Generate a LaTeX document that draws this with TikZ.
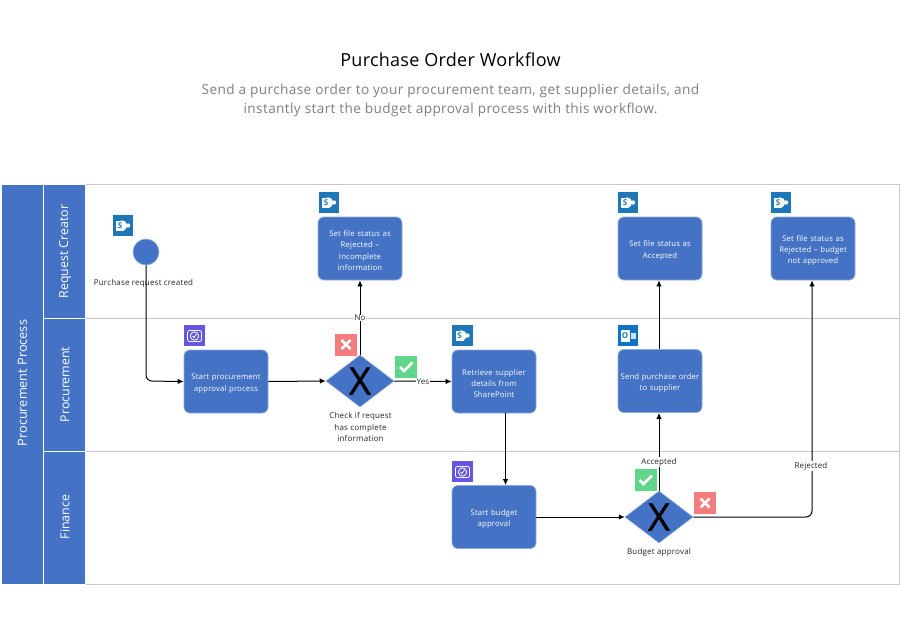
\documentclass[tikz,border=0pt]{standalone}
\usepackage{fontspec}
\setmainfont{Open Sans}
\usetikzlibrary{shapes.geometric,arrows.meta}
\definecolor{bpblue}{HTML}{4472C4}
\definecolor{bpedge}{HTML}{8FAADC}
\definecolor{lanegrey}{HTML}{C8C8C8}
\definecolor{spblue}{HTML}{1F77B8}
\definecolor{olblue}{HTML}{0F72C4}
\definecolor{flowpurple}{HTML}{6257DE}
\definecolor{okgreen}{HTML}{5FD68A}
\definecolor{nored}{HTML}{F47C7C}
\definecolor{titlegrey}{HTML}{7F7F7F}
\definecolor{labelgrey}{HTML}{262626}
\newcommand{\trk}[1]{\addfontfeature{LetterSpace=#1}}
\tikzset{
  x=1pt,y=-1pt,
  bandbox/.style={fill=bpblue,draw=white,line width=0.6pt},
  lanetxt/.style={text=white,rotate=90,font=\fontsize{12.4}{15}\selectfont},
  taskbox/.style={rectangle,rounded corners=6pt,fill=bpblue,draw=bpedge,line width=0.8pt,minimum width=84pt,minimum height=63pt,inner sep=1pt,text=white,align=center,text width=82pt,font=\fontsize{7.75}{11.4}\selectfont\trk{2},execute at begin node={\rule{0pt}{10pt}}},
  gatenode/.style={diamond,fill=bpblue,draw=bpedge,line width=0.5pt,minimum width=68pt,minimum height=52pt,inner sep=0pt,aspect=1.3,font=\fontsize{38}{38}\selectfont\addfontfeature{FakeBold=1},text=black},
  startnode/.style={circle,fill=bpblue,draw=bpedge,line width=0.6pt,minimum size=26pt,inner sep=0pt},
  captxt/.style={font=\fontsize{8}{11.4}\selectfont\trk{2.5},text=labelgrey,align=center,inner sep=0pt},
  edgelabel/.style={font=\fontsize{8}{9}\selectfont\trk{1.5},text=labelgrey,fill=white,inner sep=0.6pt},
  flow/.style={draw=black,line width=1pt,-{Latex[length=6pt,width=5.5pt]},rounded corners=6pt},
  spicon/.style={rectangle,fill=spblue,minimum size=20.5pt,inner sep=0pt,text=white,font=\bfseries\fontsize{8}{8}\selectfont},
  olicon/.style={rectangle,fill=olblue,minimum size=20.5pt,inner sep=0pt,text=white,font=\bfseries\fontsize{8}{8}\selectfont},
  paicon/.style={rectangle,fill=flowpurple,minimum size=20.5pt,inner sep=0pt},
  okicon/.style={rectangle,fill=okgreen,minimum size=22pt,inner sep=0pt},
  noicon/.style={rectangle,fill=nored,minimum size=22pt,inner sep=0pt},
  glyph/.style={draw=white,line width=2.6pt},
  thinglyph/.style={draw=white,line width=0.8pt}
}
\newcommand{\spmark}[1]{%
  \fill[white] ([xshift=-1pt]#1.center) circle (5.2pt);
  \fill[white] ([xshift=-7pt,yshift=-5pt]#1.center) rectangle ([xshift=1pt,yshift=5pt]#1.center);
  \fill[white] ([xshift=5pt]#1.center) circle (2.2pt);
  \node[text=spblue,font=\bfseries\fontsize{8}{8}\selectfont,inner sep=0pt] at ([xshift=-3pt]#1.center) {S};}
\newcommand{\pamark}[1]{%
  \draw[thinglyph,rounded corners=2pt] ([xshift=-7pt,yshift=-6pt]#1.center) rectangle ([xshift=7pt,yshift=5pt]#1.center);
  \draw[thinglyph] ([yshift=-0.5pt]#1.center) circle (4.2pt);
  \draw[thinglyph] ([xshift=-2pt,yshift=-0.5pt]#1.center) -- ([xshift=-0.5pt,yshift=-2pt]#1.center) -- ([xshift=2pt,yshift=1.5pt]#1.center);}
\newcommand{\okmark}[1]{%
  \draw[glyph] ([xshift=-6pt]#1.center) -- ([xshift=-2pt,yshift=-4pt]#1.center) -- ([xshift=6.5pt,yshift=4.5pt]#1.center);}
\newcommand{\nomark}[1]{%
  \draw[glyph] ([xshift=-4.5pt,yshift=-4.5pt]#1.center) -- ([xshift=4.5pt,yshift=4.5pt]#1.center);
  \draw[glyph] ([xshift=-4.5pt,yshift=4.5pt]#1.center) -- ([xshift=4.5pt,yshift=-4.5pt]#1.center);}
\begin{document}
\begin{tikzpicture}
\useasboundingbox (0,0) rectangle (900,626);
\fill[white] (0,0) rectangle (900,626);
% title
\node[font=\fontsize{18}{20}\selectfont\trk{1.5},text=black,inner sep=0pt] (title) at (450.5,60) {Purchase Order Workflow};
\node[font=\fontsize{13.65}{19}\selectfont\trk{2.7},text=titlegrey,align=center,inner sep=0pt] (subtitle) at (450.5,100.5) {Send a purchase order to your procurement team, get supplier details, and\\instantly start the budget approval process with this workflow.};
% pool
\draw[lanegrey,line width=0.9pt] (1,184) rectangle (899,584);
\draw[lanegrey,line width=0.8pt] (85,318) -- (899,318);
\draw[lanegrey,line width=0.8pt] (85,451) -- (899,451);
\path[bandbox] (1,184) rectangle (43,584);
\path[bandbox] (43,184) rectangle (85,318);
\path[bandbox] (43,318) rectangle (85,451);
\path[bandbox] (43,451) rectangle (85,584);
\node[lanetxt,font=\fontsize{12.7}{15}\selectfont] (pool) at (22.5,383) {Procurement Process};
\node[lanetxt] (lane1) at (65,251.5) {Request Creator};
\node[lanetxt] (lane2) at (65,384.5) {Procurement};
\node[lanetxt] (lane3) at (65,517) {Finance};
% flow nodes
\node[startnode] (start) at (146,252) {};
\node[captxt] (startcap) at (143.5,283) {Purchase request created};
\node[taskbox] (rej1) at (360,248.5) {Set file status as\\Rejected --\\Incomplete\\information};
\node[taskbox] (proc) at (226,381.5) {Start procurement\\approval process};
\node[gatenode] (gate1) at (360,381) {X};
\node[captxt] (gate1cap) at (360.5,427) {Check if request\\has complete\\information};
\node[taskbox] (retr) at (494,381.5) {Retrieve supplier\\details from\\SharePoint};
\node[taskbox] (budg) at (494,517) {Start budget\\approval};
\node[gatenode] (gate2) at (659,517) {X};
\node[captxt] (gate2cap) at (659,552) {Budget approval};
\node[taskbox] (send) at (660,381) {Send purchase order\\to supplier};
\node[taskbox] (acc) at (660,248.5) {Set file status as\\Accepted};
\node[taskbox] (rej2) at (813,248.5) {Set file status as\\Rejected -- budget\\not approved};
% connectors
\coordinate (bendA) at (146,381);
\coordinate (bendB) at (812,517);
\draw[flow] (start.south) -- (bendA) -- (proc.west);
\draw[flow] (proc.east) -- (gate1.west);
\draw[flow] (gate1.north) -- (rej1.south);
\draw[flow] (gate1.east) -- (retr.west);
\draw[flow] ([xshift=11.5pt]retr.south) -- ([xshift=11.5pt]budg.north);
\draw[flow] (budg.east) -- (gate2.west);
\draw[flow] (gate2.north) -- (send.south -| gate2.north);
\draw[flow] (send.north -| gate2.north) -- (acc.south -| gate2.north);
\draw[flow] (gate2.east) -- (bendB) -- (rej2.south -| bendB);
% connector labels
\node[edgelabel] (lblno) at (360,318) {No};
\node[edgelabel] (lblyes) at (423,382) {Yes};
\node[edgelabel] (lblacc) at (659,462) {Accepted};
\node[edgelabel] (lblrej) at (811,466) {Rejected};
% icons
\node[spicon] (ic1) at (123,225.5) {}; \spmark{ic1}
\node[spicon] (ic2) at (329,202.5) {}; \spmark{ic2}
\node[spicon] (ic3) at (628,202.5) {}; \spmark{ic3}
\node[spicon] (ic4) at (781,202.5) {}; \spmark{ic4}
\node[spicon] (ic5) at (462.5,335.5) {}; \spmark{ic5}
\node[paicon] (ic6) at (194.5,335.5) {}; \pamark{ic6}
\node[paicon] (ic7) at (462.5,471.5) {}; \pamark{ic7}
\node[olicon] (ic8) at (628,335.5) {};
\fill[white] ([xshift=-7pt,yshift=-6pt]ic8.center) rectangle ([xshift=2pt,yshift=6pt]ic8.center);
\node[text=olblue,font=\bfseries\fontsize{8}{8}\selectfont,inner sep=0pt] (ic8o) at ([xshift=-3pt]ic8.center) {O};
\fill[white!80!olblue] ([xshift=2.5pt,yshift=-3.5pt]ic8.center) rectangle ([xshift=8pt,yshift=3pt]ic8.center);
\node[noicon] (no1) at (346,344.5) {}; \nomark{no1}
\node[okicon] (ok1) at (406,367) {}; \okmark{ok1}
\node[okicon] (ok2) at (645.5,480) {}; \okmark{ok2}
\node[noicon] (no2) at (705,503) {}; \nomark{no2}
\end{tikzpicture}
\end{document}
